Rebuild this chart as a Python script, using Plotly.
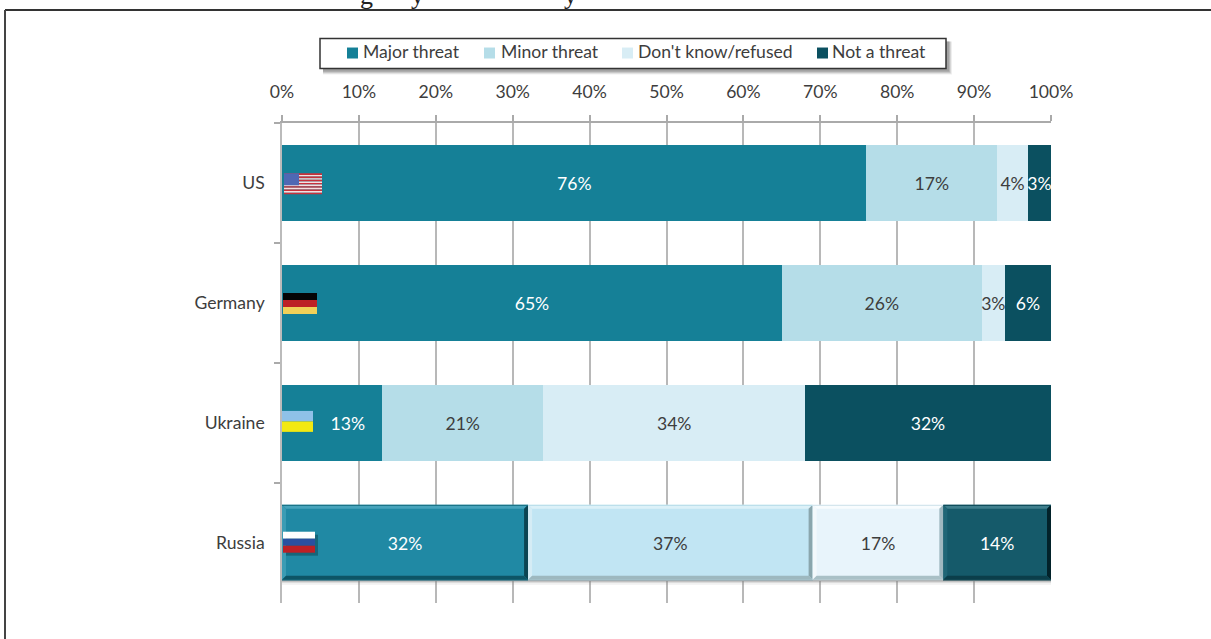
import plotly.graph_objects as go

countries = ["US", "Germany", "Ukraine", "Russia"]
major = [76, 65, 13, 32]
minor = [17, 26, 21, 37]
dont_know = [4, 3, 34, 17]
not_threat = [3, 6, 32, 14]
series_names = ["Major threat", "Minor threat", "Don't know/refused", "Not a threat"]
tick_values = [0, 10, 20, 30, 40, 50, 60, 70, 80, 90, 100]
tick_labels = ["0%", "10%", "20%", "30%", "40%", "50%", "60%", "70%", "80%", "90%", "100%"]

series = [
    (series_names[0], major, "#158097", "#2089a4", "#ffffff"),
    (series_names[1], minor, "#b5dde8", "#c1e5f3", "#3d3d3d"),
    (series_names[2], dont_know, "#d8edf5", "#e8f4fb", "#3d3d3d"),
    (series_names[3], not_threat, "#0b5060", "#155a6a", "#ffffff"),
]

W, H = 1211, 639
L, R, T, B = 282, 1051, 122.6, 603.4
FONT = "Lato, 'Open Sans', sans-serif"
TXT = "#3d3d3d"
SIZE = 17.6
WEIGHT = 400


def px(x):
    return (x - L) / (R - L)


def py(y):
    return (B - y) / (B - T)


def rect(x0, y0, x1, y1, color, opacity=1.0, layer="above"):
    return dict(type="rect", xref="paper", yref="paper", x0=px(x0), x1=px(x1), y0=py(y0), y1=py(y1),
                fillcolor=color, opacity=opacity, line_width=0, layer=layer)


def poly(pts, color, opacity=1.0):
    path = "M " + " L ".join(f"{px(a):.5f},{py(b):.5f}" for a, b in pts) + " Z"
    return dict(type="path", xref="paper", yref="paper", path=path, fillcolor=color, opacity=opacity,
                line_width=0, layer="above")


fig = go.Figure()
for name, vals, col, col_r, txt in series:
    labels = [f"{v}%" for v in vals]
    if name == series_names[0]:
        # the Ukraine label sits right of the flag in the reference
        labels[2] = "\u00a0" * 7 + labels[2]
    fig.add_bar(
        name=name, y=countries, x=vals, orientation="h", showlegend=False,
        marker=dict(color=[col, col, col, col_r], line_width=0),
        text=labels, textposition="inside", insidetextanchor="middle",
        textangle=0, constraintext="none", cliponaxis=False,
        textfont=dict(family=FONT, size=SIZE, color=txt, weight=WEIGHT), hoverinfo="skip",
    )

shapes = []
# outer frame
shapes.append(dict(type="line", xref="paper", yref="paper", x0=px(5), x1=px(W + 5), y0=py(9.5), y1=py(9.5),
                   line=dict(color="#333333", width=2), layer="below"))
shapes.append(dict(type="line", xref="paper", yref="paper", x0=px(5), x1=px(5), y0=py(9.5), y1=py(H + 5),
                   line=dict(color="#444444", width=2), layer="below"))

# legend box and soft shadow
for off, op in [(6, 0.12), (5, 0.2), (4, 0.3), (3, 0.35)]:
    shapes.append(rect(320 + 3, 38 + 3, 946 + off, 68 + off, "#777777", op))
shapes.append(dict(type="rect", xref="paper", yref="paper", x0=px(320), x1=px(946), y0=py(38), y1=py(68),
                   fillcolor="white", line=dict(color="#333333", width=1.5), layer="above"))
legend_pos = [(347, 361), (484, 499), (622, 636), (817, 830)]
annotations = []
for (name, vals, col, col_r, txt), (sx, tx) in zip(series, legend_pos):
    shapes.append(rect(sx, 47, sx + 11, 58, col))
    annotations.append(dict(text=name, xref="paper", yref="paper", x=px(tx), y=py(50.5), xanchor="left", yanchor="middle",
                            showarrow=False, font=dict(family=FONT, size=SIZE, color=TXT, weight=WEIGHT)))

# bevels on the Russia row
y0, y1 = 505, 580
for off, op in [(5, 0.12), (3, 0.25), (2, 0.35)]:
    shapes.append(rect(L, y1, R, y1 + off, "#888888", op))
b = 4
cum = 0
bevels = {
    "Major threat": ("#46a3bb", "#3b9cb4", "#0b4452", "#0d5566", "#1a7488"),
    "Minor threat": ("#dcf1f8", "#d5ecf5", "#8aa6ad", "#9db8bf", "#bcdfeb"),
    "Don't know/refused": ("#f8fcfe", "#f3f9fc", "#9fb8c0", "#a9c0c6", "#d5e6ed"),
    "Not a threat": ("#3f7f8d", "#1f6676", "#02222a", "#0b3e4a", "#0f4d5b"),
}
for name, vals, col, col_r, txt in series:
    a0 = L + cum * (R - L) / 100
    cum += vals[3]
    a1 = L + cum * (R - L) / 100
    top, left, right, bot, edge = bevels[name]
    shapes.append(poly([(a0, y0), (a1, y0), (a1 - b, y0 + b), (a0 + b, y0 + b)], top))
    shapes.append(poly([(a0, y0), (a0 + b, y0 + b), (a0 + b, y1 - b), (a0, y1)], left))
    shapes.append(poly([(a1, y0), (a1 - b, y0 + b), (a1 - b, y1 - b), (a1, y1)], right))
    shapes.append(poly([(a0, y1), (a0 + b, y1 - b), (a1 - b, y1 - b), (a1, y1)], bot))
    shapes.append(rect(a0, y0, a1, y0 + 1.2, edge))

# flags
fx0, fx1, fy0, fy1 = 284, 322, 173, 194
for i in range(13):
    h = (fy1 - fy0) / 13
    shapes.append(rect(fx0, fy0 + i * h, fx1, fy0 + (i + 1) * h, "#c8323c" if i % 2 == 0 else "#f6e0e0"))
shapes.append(rect(fx0, fy0, 299, fy0 + 12, "#4f68b4"))
for i, c in enumerate(["#050505", "#bd2025", "#f0d058"]):
    shapes.append(rect(283, 293 + i * 7, 317, 300 + i * 7, c))
shapes.append(rect(282, 411, 313, 421.5, "#8fc1e8"))
shapes.append(rect(282, 421.5, 313, 432, "#f2e912"))
shapes.append(rect(286, 535, 318, 556, "#0a3b47", 0.45))
for i, c in enumerate(["#ffffff", "#2a50a0", "#bd2025"]):
    shapes.append(rect(283, 532 + i * 7, 315, 539 + i * 7, c))

# descenders of the heading that is cropped by the top edge
for t, x in [("g", 366), ("y", 417), ("y", 570)]:
    annotations.append(dict(text=t, xref="paper", yref="paper", x=px(x), y=py(-5), xanchor="center", yanchor="middle",
                            showarrow=False, font=dict(family="Liberation Serif", size=26, color="#222222")))

fig.update_layout(
    width=W, height=H, margin=dict(l=L, r=W - R, t=T, b=H - B, autoexpand=False),
    paper_bgcolor="white", plot_bgcolor="white", barmode="stack", bargap=0.367,
    font=dict(family=FONT, size=SIZE, color=TXT), showlegend=False,
    shapes=shapes, annotations=annotations,
    xaxis=dict(side="top", range=[0, 100], tickmode="array", tickvals=tick_values, ticktext=tick_labels,
               showgrid=True, gridcolor="#b8b8b8", gridwidth=1.5, zeroline=False,
               showline=True, linecolor="#aaaaaa", linewidth=1.5, ticks="outside", ticklen=6,
               tickcolor="#aaaaaa", tickwidth=1.5, ticklabelstandoff=10,
               tickfont=dict(size=SIZE, color=TXT, weight=WEIGHT)),
    yaxis=dict(autorange=False, range=[3.5, -0.5], type="category", categoryorder="array", categoryarray=countries,
               tickson="boundaries", showgrid=False, showline=True, linecolor="#bbbbbb", linewidth=1.5,
               ticks="outside", ticklen=6, tickcolor="#aaaaaa", tickwidth=1.5, ticklabelstandoff=12,
               tickfont=dict(size=SIZE, color=TXT, weight=WEIGHT)),
)
fig.write_html("out.html", config=dict(displayModeBar=False),
               post_script="document.body.style.margin='0';")
